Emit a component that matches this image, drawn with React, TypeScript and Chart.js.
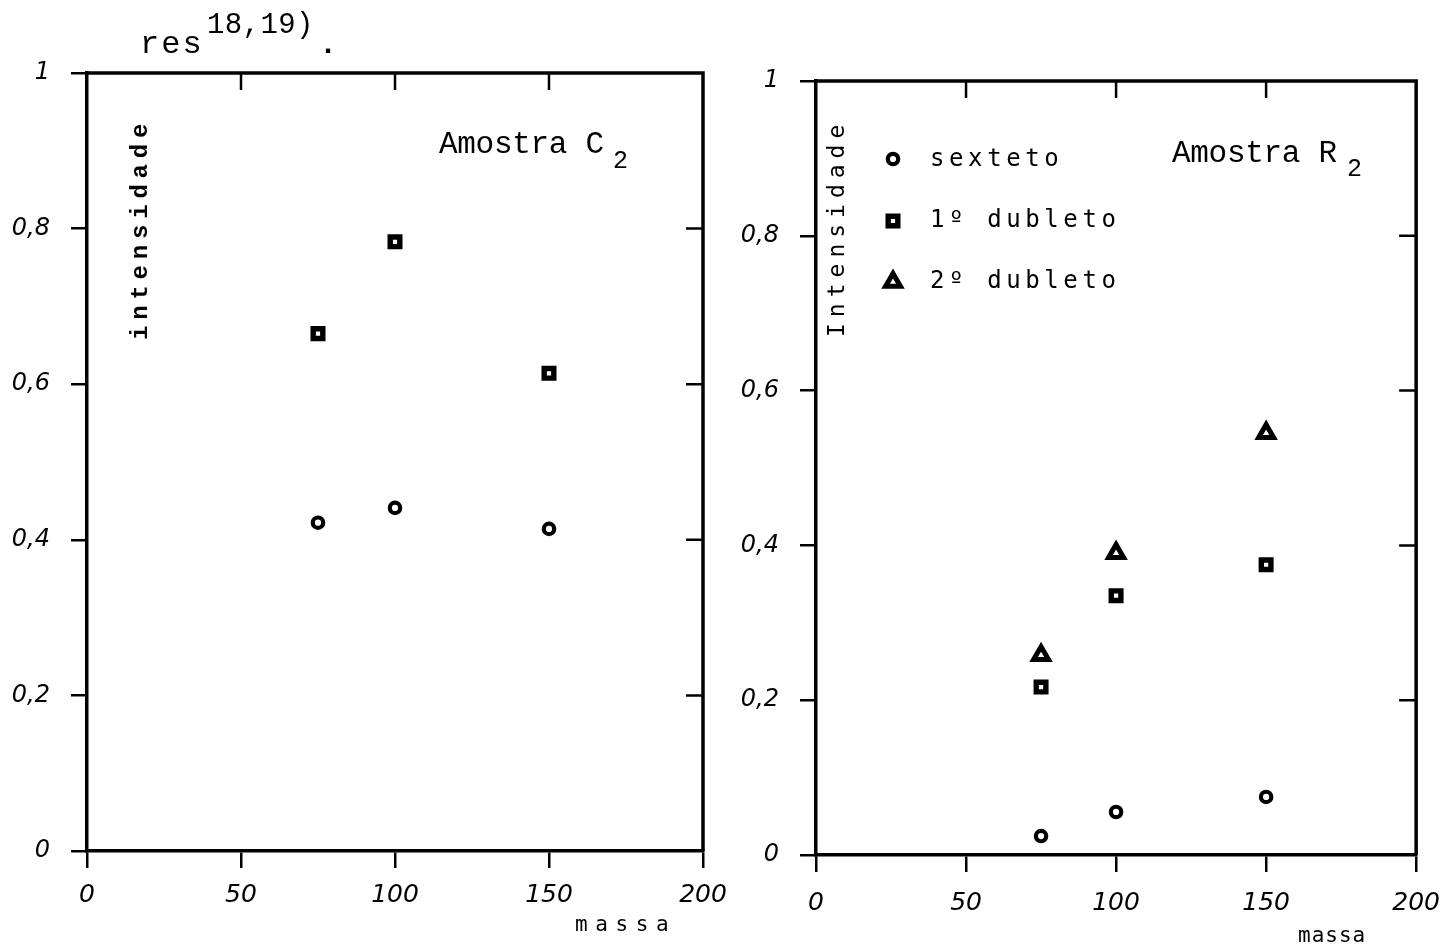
import React, { useEffect, useRef } from 'react';
import { Chart, registerables } from 'chart.js';
import { drawPoint } from 'chart.js/helpers';

Chart.register(...registerables);

// ---- data ----
const massa = [75, 100, 150];
const c2Sexteto = [0.422, 0.441, 0.414];
const c2Dubleto1 = [0.665, 0.783, 0.614];
const r2Sexteto = [0.0245, 0.0556, 0.075];
const r2Dubleto1 = [0.217, 0.335, 0.375];
const r2Dubleto2 = [0.258, 0.39, 0.545];
const seriesNames = ['sexteto', '1º dubleto', '2º dubleto'];
const xTicks = [0, 50, 100, 150, 200];
const xTickLabels = ['0', '50', '100', '150', '200'];
const yTicks = [0, 0.2, 0.4, 0.6, 0.8, 1];
const yTickLabels = ['0', '0,2', '0,4', '0,6', '0,8', '1'];
const xTitle = 'massa';
const yTitleC2 = 'intensidade';
const yTitleR2 = 'Intensidade';

const BLACK = '#000';

const markerStyles: Record<string, any> = {
  circle: { pointStyle: 'circle', pointRadius: 5.2, pointBorderWidth: 4.2 },
  rect: { pointStyle: 'rect', pointRadius: 6.8, pointBorderWidth: 5.4 },
  triangle: { pointStyle: 'triangle', pointRadius: 8.6, pointBorderWidth: 5 },
};

function dataset(label: string, ys: number[], style: string) {
  return {
    label,
    data: massa.map((m, i) => ({ x: m, y: ys[i] })),
    showLine: false,
    pointBorderColor: BLACK,
    pointBackgroundColor: '#fff',
    ...markerStyles[style],
  };
}

type Note = {
  text: string;
  x: number;
  y: number;
  font: string;
  spacing?: number;
  align?: CanvasTextAlign;
  baseline?: CanvasTextBaseline;
  rotate?: number;
};
type Marker = { dataset: number; x: number; y: number };

function makeFramePlugin() {
  return {
    id: 'frame',
    afterDraw(chart: any) {
      const { ctx } = chart;
      const xs = chart.scales.x;
      const ys = chart.scales.y;
      const x0 = xs.getPixelForValue(xTicks[0]);
      const x1 = xs.getPixelForValue(xTicks[xTicks.length - 1]);
      const y0 = ys.getPixelForValue(yTicks[0]);
      const y1 = ys.getPixelForValue(yTicks[yTicks.length - 1]);
      ctx.save();
      ctx.strokeStyle = BLACK;
      ctx.lineJoin = 'miter';
      ctx.lineWidth = 3.5;
      ctx.beginPath();
      ctx.moveTo(x0, y1);
      ctx.lineTo(x1, y1);
      ctx.lineTo(x1, y0);
      ctx.stroke();
      ctx.lineWidth = 2.5;
      ctx.beginPath();
      xTicks.slice(1, -1).forEach((v) => {
        const px = xs.getPixelForValue(v);
        ctx.moveTo(px, y1);
        ctx.lineTo(px, y1 + 17);
      });
      yTicks.slice(1, -1).forEach((v) => {
        const py = ys.getPixelForValue(v);
        ctx.moveTo(x1, py);
        ctx.lineTo(x1 - 17, py);
      });
      ctx.stroke();
      ctx.restore();
    },
  };
}

function makeNotesPlugin(texts: Note[], markers: Marker[]) {
  return {
    id: 'notes',
    afterDraw(chart: any) {
      const ctx = chart.ctx as CanvasRenderingContext2D;
      markers.forEach((m) => {
        const ds: any = chart.data.datasets[m.dataset];
        ctx.save();
        ctx.lineWidth = ds.pointBorderWidth;
        ctx.strokeStyle = BLACK;
        ctx.fillStyle = '#fff';
        drawPoint(
          ctx,
          { pointStyle: ds.pointStyle, radius: ds.pointRadius, borderWidth: ds.pointBorderWidth, rotation: 0 } as any,
          m.x,
          m.y
        );
        ctx.restore();
      });
      texts.forEach((t) => {
        ctx.save();
        ctx.fillStyle = BLACK;
        ctx.font = t.font;
        (ctx as any).letterSpacing = (t.spacing || 0) + 'px';
        ctx.textAlign = t.align || 'left';
        ctx.textBaseline = t.baseline || 'alphabetic';
        ctx.translate(t.x, t.y);
        if (t.rotate) ctx.rotate(t.rotate);
        ctx.fillText(t.text, 0, 0);
        ctx.restore();
      });
    },
  };
}

function scales(xPad: number, yWidth: number) {
  return {
    x: {
      type: 'linear',
      min: xTicks[0],
      max: xTicks[xTicks.length - 1],
      afterBuildTicks: (s: any) => {
        s.ticks = xTicks.map((v) => ({ value: v }));
      },
      afterFit: (s: any) => {
        s.height = 60;
      },
      ticks: {
        callback: (_v: any, i: number) => xTickLabels[i],
        color: BLACK,
        padding: xPad,
        maxRotation: 0,
        autoSkip: false,
        font: { family: 'DejaVu Sans', size: 25, style: 'italic' },
      },
      grid: {
        drawOnChartArea: false,
        drawTicks: true,
        tickLength: 17,
        lineWidth: 2.5,
        tickWidth: 2.5,
        color: BLACK,
        tickColor: BLACK,
      },
      border: { display: true, width: 3.5, color: BLACK },
    },
    y: {
      type: 'linear',
      min: yTicks[0],
      max: yTicks[yTicks.length - 1],
      afterBuildTicks: (s: any) => {
        s.ticks = yTicks.map((v) => ({ value: v }));
      },
      afterFit: (s: any) => {
        s.width = yWidth;
      },
      ticks: {
        callback: (_v: any, i: number) => yTickLabels[i],
        color: BLACK,
        padding: 21,
        crossAlign: 'near',
        autoSkip: false,
        font: { family: 'DejaVu Sans', size: 24, style: 'italic' },
      },
      grid: {
        drawOnChartArea: false,
        drawTicks: true,
        tickLength: 16,
        lineWidth: 2.5,
        tickWidth: 2.5,
        color: BLACK,
        tickColor: BLACK,
      },
      border: { display: true, width: 3.5, color: BLACK },
    },
  };
}

const LEFT_W = 740;
const RIGHT_W = 1456 - LEFT_W;
const H = 947;

export default function App() {
  const leftRef = useRef<HTMLCanvasElement>(null);
  const rightRef = useRef<HTMLCanvasElement>(null);

  useEffect(() => {
    const mono = 'Liberation Mono';
    const sansMono = 'DejaVu Sans Mono';

    const leftTexts: Note[] = [
      { text: 'res', x: 140, y: 53, font: `32px "${mono}"`, spacing: 2 },
      { text: '18,19)', x: 207, y: 33, font: `29px "${mono}"`, spacing: 0.4 },
      { text: '.', x: 319, y: 53, font: `bold 30px "${mono}"` },
      { text: 'Amostra C', x: 439, y: 153, font: `31px "${mono}"`, spacing: -0.3 },
      { text: '2', x: 613, y: 168, font: `25px "${mono}"` },
      { text: yTitleC2, x: 141, y: 340, font: `bold 24px "${mono}"`, spacing: 5.8, baseline: 'middle', rotate: -Math.PI / 2 },
      { text: xTitle, x: 575, y: 926, font: `21px "${sansMono}"`, spacing: 7.6, baseline: 'middle' },
    ];

    const o = LEFT_W;
    const rightTexts: Note[] = [
      { text: yTitleR2, x: 838 - o, y: 337, font: `23px "${sansMono}"`, spacing: 6, baseline: 'middle', rotate: -Math.PI / 2 },
      { text: seriesNames[0], x: 930 - o, y: 160, font: `24px "${sansMono}"`, spacing: 4.6, baseline: 'middle' },
      { text: seriesNames[1], x: 930 - o, y: 221, font: `24px "${sansMono}"`, spacing: 4.6, baseline: 'middle' },
      { text: seriesNames[2], x: 930 - o, y: 282, font: `24px "${sansMono}"`, spacing: 4.6, baseline: 'middle' },
      { text: 'Amostra R', x: 1172 - o, y: 162, font: `31px "${mono}"`, spacing: -0.3 },
      { text: '2', x: 1347 - o, y: 176, font: `25px "${mono}"` },
      { text: xTitle, x: 1298 - o, y: 937, font: `21px "${sansMono}"`, spacing: 1, baseline: 'middle' },
    ];
    const rightMarkers: Marker[] = [
      { dataset: 0, x: 893 - o, y: 159 },
      { dataset: 1, x: 893 - o, y: 221 },
      { dataset: 2, x: 893 - o, y: 282 },
    ];

    const common = {
      responsive: false,
      maintainAspectRatio: false,
      animation: false,
      plugins: { legend: { display: false }, tooltip: { enabled: false } },
    };

    const left = new Chart(leftRef.current as HTMLCanvasElement, {
      type: 'scatter',
      data: {
        datasets: [dataset(seriesNames[0], c2Sexteto, 'circle'), dataset(seriesNames[1], c2Dubleto1, 'rect')],
      },
      options: {
        ...common,
        layout: { padding: { left: 0, top: 73, right: LEFT_W - 703, bottom: H - 851 - 60 } },
        scales: scales(12, 87),
      } as any,
      plugins: [makeFramePlugin(), makeNotesPlugin(leftTexts, [])],
    } as any);

    const right = new Chart(rightRef.current as HTMLCanvasElement, {
      type: 'scatter',
      data: {
        datasets: [
          dataset(seriesNames[0], r2Sexteto, 'circle'),
          dataset(seriesNames[1], r2Dubleto1, 'rect'),
          dataset(seriesNames[2], r2Dubleto2, 'triangle'),
        ],
      },
      options: {
        ...common,
        layout: { padding: { left: 0, top: 81, right: 1456 - 1430, bottom: H - 855 - 60 } },
        scales: scales(16, 816 - o),
      } as any,
      plugins: [makeFramePlugin(), makeNotesPlugin(rightTexts, rightMarkers)],
    } as any);

    return () => {
      left.destroy();
      right.destroy();
    };
  }, []);

  return (
    <div style={{ position: 'absolute', left: 0, top: 0, width: 1456, height: H, overflow: 'hidden', background: '#fff' }}>
      <canvas ref={leftRef} width={LEFT_W} height={H} style={{ position: 'absolute', left: 0, top: 0 }} />
      <canvas ref={rightRef} width={RIGHT_W} height={H} style={{ position: 'absolute', left: LEFT_W, top: 0 }} />
    </div>
  );
}
